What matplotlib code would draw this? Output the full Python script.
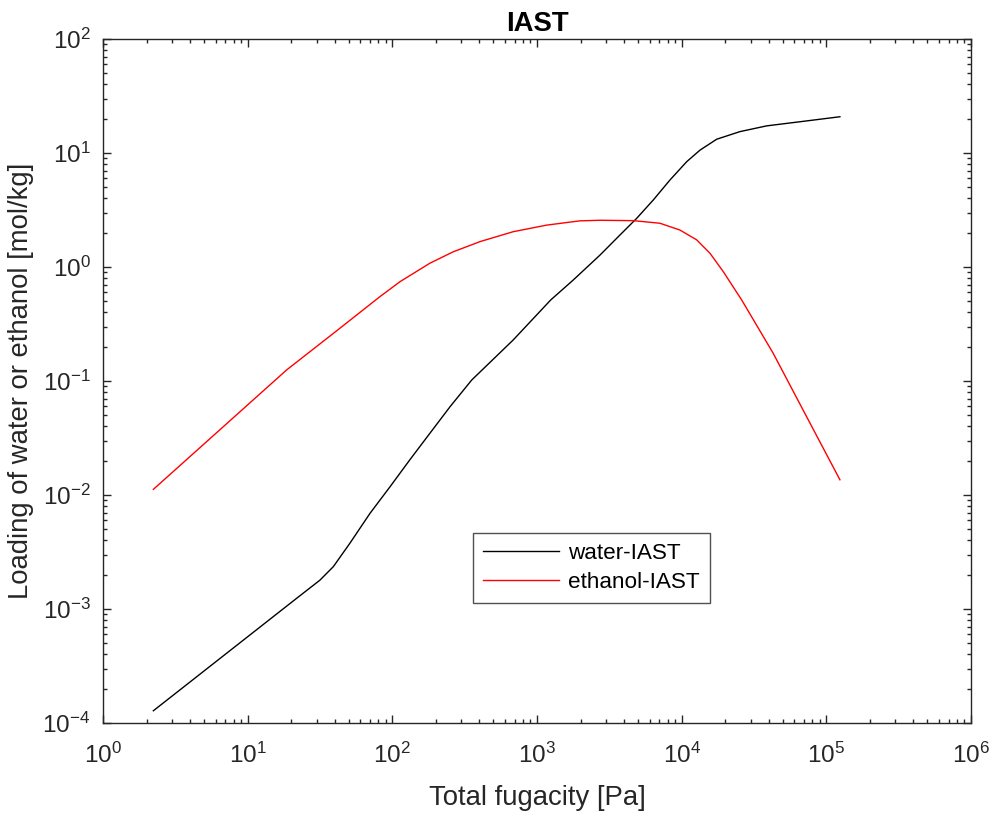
import matplotlib
matplotlib.use("Agg")
import matplotlib.pyplot as plt
from matplotlib.ticker import LogLocator

# Values (Pa, mol/kg)
water_f = [2.23, 21.8, 31.6, 39.1, 50.9, 70.1, 96.4, 132, 182, 251, 354, 685,
           1245, 1782, 2723, 3750, 4887, 6368, 8299, 10840, 13400, 17460,
           25290, 38730, 65770, 124200]
water_q = [1.28e-4, 1.24e-3, 1.79e-3, 2.35e-3, 3.77e-3, 6.90e-3, 1.18e-2,
           2.03e-2, 3.48e-2, 5.96e-2, 0.102, 0.229, 0.514, 0.769, 1.27, 1.91,
           2.67, 3.87, 5.79, 8.39, 10.6, 13.2, 15.4, 17.3, 18.8, 20.8]

ethanol_f = [2.23, 18.6, 43.4, 82.2, 113, 182, 264, 404, 685, 1167, 1982, 2723,
             4634, 7079, 9727, 12710, 15700, 19410, 26000, 42950, 73110, 124200]
ethanol_q = [0.0112, 0.125, 0.290, 0.550, 0.743, 1.08, 1.36, 1.67, 2.04, 2.33,
             2.54, 2.57, 2.55, 2.42, 2.11, 1.73, 1.32, 0.910, 0.514, 0.175,
             0.0486, 0.0136]

plt.rcParams['font.family'] = ['Liberation Sans', 'DejaVu Sans']
plt.rcParams['mathtext.fontset'] = 'custom'
plt.rcParams['mathtext.rm'] = 'Liberation Sans'
plt.rcParams['mathtext.it'] = 'Liberation Sans:italic'
plt.rcParams['mathtext.bf'] = 'Liberation Sans:bold'

fig = plt.figure(figsize=(9.93, 8.16), dpi=100)
ax = fig.add_axes([0.1037, 0.1140, 0.8741, 0.8382])

ax.plot(water_f, water_q, color='black', lw=1.0, label='water-IAST')
ax.plot(ethanol_f, ethanol_q, color='red', lw=1.0, label='ethanol-IAST')

ax.set_xscale('log')
ax.set_yscale('log')
ax.set_xlim(1, 1e6)
ax.set_ylim(1e-4, 1e2)
ax.xaxis.set_major_locator(LogLocator(base=10, numticks=10))
ax.yaxis.set_major_locator(LogLocator(base=10, numticks=10))
ax.xaxis.set_minor_locator(LogLocator(base=10, subs=range(2, 10), numticks=20))
ax.yaxis.set_minor_locator(LogLocator(base=10, subs=range(2, 10), numticks=20))

ax.tick_params(which='both', direction='in', top=True, right=True, width=1.0, colors='#262626')
ax.tick_params(which='major', length=6, labelsize=17.5)
ax.tick_params(which='minor', length=3.2)
ax.tick_params(axis='x', which='major', pad=14)
ax.tick_params(axis='y', which='major', pad=9)
for s in ax.spines.values():
    s.set_linewidth(1.0)
    s.set_color('#262626')

ax.set_xlabel('Total fugacity [Pa]', fontsize=19.8, color='#262626')
ax.set_ylabel('Loading of water or ethanol [mol/kg]', fontsize=19.8, color='#262626')
ax.xaxis.set_label_coords(0.5, -0.09)
ax.yaxis.set_label_coords(-0.079, 0.5)
ax.set_title('IAST', fontsize=19.8, fontweight='bold', pad=6)

leg = ax.legend(loc='upper left', bbox_to_anchor=(0.426, 0.278), borderaxespad=0,
                fontsize=16.2, frameon=True, fancybox=False, handlelength=3.4,
                handletextpad=0.4, borderpad=0.45, labelspacing=0.35)
leg.get_frame().set_edgecolor('#262626')
leg.get_frame().set_linewidth(1.0)

fig.savefig('out.png', dpi=100)
